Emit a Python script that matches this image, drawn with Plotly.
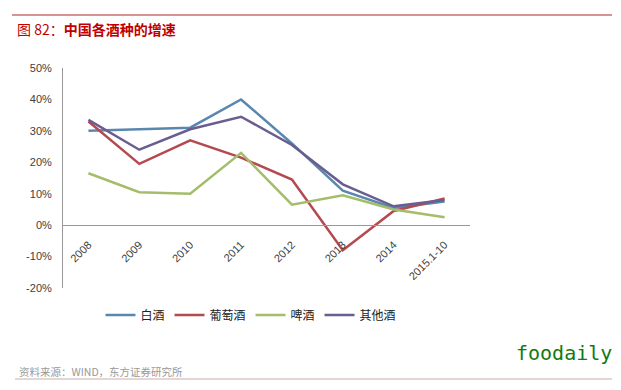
import plotly.graph_objects as go

categories = ["2008", "2009", "2010", "2011", "2012", "2013", "2014", "2015.1-10"]
baijiu = [30, 30.5, 31, 40, 26, 11, 5.5, 7.5]
putaojiu = [33, 19.5, 27, 21.5, 14.5, -8, 4.5, 8.5]
pijiu = [16.5, 10.5, 10, 23, 6.5, 9.5, 5, 2.5]
qitajiu = [33.5, 24, 30.5, 34.5, 25.5, 13, 6, 8]
y_ticks = [-20, -10, 0, 10, 20, 30, 40, 50]
y_labels = ["-20%", "-10%", "0%", "10%", "20%", "30%", "40%", "50%"]

series = [
    ("白酒", baijiu, "#5a87b0"),
    ("葡萄酒", putaojiu, "#b44a50"),
    ("啤酒", pijiu, "#a3bd6a"),
    ("其他酒", qitajiu, "#6a5d90"),
]

W, H = 621, 390
L, R, T, B = 63, 470, 68, 288
pw, ph = R - L, B - T

def px(x):
    return (x - L) / pw

def py(y):
    return (B - y) / ph

fig = go.Figure()
for name, vals, col in series:
    fig.add_trace(go.Scatter(x=categories, y=vals, name=name, mode="lines",
                             line=dict(color=col, width=2.5)))

font_main = "Liberation Sans, Noto Sans CJK SC, sans-serif"

fig.update_layout(
    width=W, height=H,
    margin=dict(l=L, r=W - R, t=T, b=H - B),
    paper_bgcolor="white", plot_bgcolor="white",
    font=dict(family=font_main, size=11, color="#404040"),
    title=dict(text="图 82：<b>中国各酒种的增速</b>", x=17 / W, xanchor="left",
               y=1 - 30 / H, yanchor="middle", yref="container",
               font=dict(family="Noto Sans CJK SC", size=14, color="#c00000")),
    xaxis=dict(type="category", range=[-0.5, 7.5], anchor="free",
               position=20 / 70, showline=True, linecolor="#999999", linewidth=1,
               showgrid=False, zeroline=False, tickangle=-45, ticks="",
               ticklabelstandoff=8,
               tickfont=dict(size=11, color="#404040")),
    yaxis=dict(range=[-20, 50], tickvals=y_ticks, ticktext=y_labels, showline=True,
               linecolor="#999999", linewidth=1, showgrid=False, zeroline=False,
               ticks="", ticklabelstandoff=8, tickfont=dict(size=11, color="#404040")),
    legend=dict(orientation="h", x=px(251), xanchor="center", y=py(315),
                yanchor="middle", font=dict(family="Noto Sans CJK SC", size=12, color="#222222"),
                itemwidth=30, bgcolor="rgba(0,0,0,0)"),
    showlegend=True,
)

fig.add_shape(type="line", xref="paper", yref="paper", x0=px(12), x1=px(612),
              y0=py(15), y1=py(15), line=dict(color="#c87070", width=1.5))
fig.add_shape(type="line", xref="paper", yref="paper", x0=px(15), x1=px(612),
              y0=py(379), y1=py(379), line=dict(color="#dcc8c8", width=1.5))

fig.add_annotation(text="资料来源：WIND，东方证券研究所", xref="paper", yref="paper",
                   x=px(17), y=py(371), xanchor="left", yanchor="middle",
                   showarrow=False, font=dict(family="Noto Sans CJK SC", size=10.5, color="#999999"))
fig.add_annotation(text="foodaily", xref="paper", yref="paper",
                   x=px(614), y=py(353), xanchor="right", yanchor="middle",
                   showarrow=False, font=dict(family="DejaVu Sans Mono", size=20, color="#117a11"))

fig.write_html("out.html", config={"displayModeBar": False},
               post_script="document.body.style.margin='0';")
